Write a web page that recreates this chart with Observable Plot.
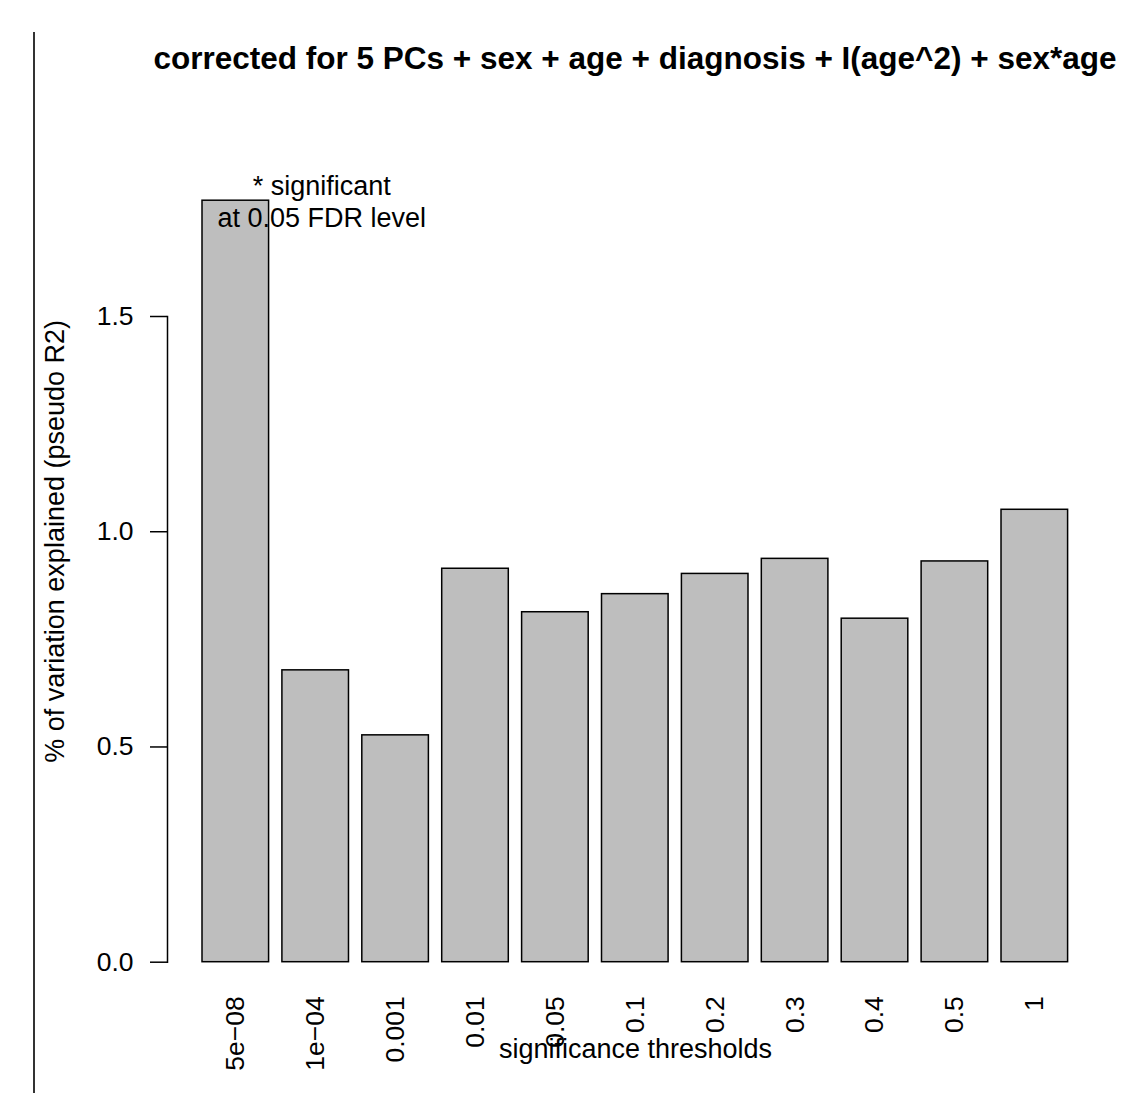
<!DOCTYPE html>
<html>
<head>
<meta charset="utf-8">
<script src="https://cdn.jsdelivr.net/npm/d3@7"></script>
<script src="https://cdn.jsdelivr.net/npm/@observablehq/plot@0.6"></script>
<style>
  html, body { margin: 0; padding: 0; background: white; overflow: hidden; }
  body { font-family: "Liberation Sans", Arial, sans-serif; }
  #wrap { position: relative; width: 1146px; height: 1093px; }
  #border { position: absolute; left: 33px; top: 32px; width: 0; height: 1061px; border-left: 2px solid #333; z-index: 5; }
  #title { position: absolute; left: 635px; top: 43px; transform: translateX(-50%); white-space: nowrap;
           font-size: 31.5px; line-height: 31px; font-weight: bold; color: #000; z-index: 5; }
  #chart { position: absolute; left: 0; top: 100px; }
</style>
</head>
<body>
<div id="wrap">
  <div id="border"></div>
  <div id="title">corrected for 5 PCs + sex + age + diagnosis + I(age^2) + sex*age</div>
  <div id="chart"></div>
</div>
<script>
const thresholds = ["5e\u221208", "1e\u221204", "0.001", "0.01", "0.05", "0.1", "0.2", "0.3", "0.4", "0.5", "1"];
const values = [1.769, 0.678, 0.527, 0.914, 0.813, 0.855, 0.902, 0.937, 0.798, 0.931, 1.051];
const yTicks = [0, 0.5, 1.0, 1.5];
const yLabel = "% of variation explained (pseudo R2)";
const xLabel = "significance thresholds";
const note = "* significant\nat 0.05 FDR level";

const data = thresholds.map((t, i) => ({threshold: t, value: values[i]}));
const maxVal = d3.max(values);
const noteData = [{threshold: thresholds[1], value: maxVal, text: note}];

const font = "Liberation Sans, Arial, sans-serif";

const chart = Plot.plot({
  width: 1146,
  height: 993,
  marginTop: 216,
  marginBottom: 131.3,
  marginLeft: 167,
  marginRight: 43,
  style: {fontFamily: font, fontSize: "26px", color: "black", background: "transparent"},
  x: {domain: thresholds, range: [202, 1067.6], paddingInner: 1/6, paddingOuter: 0, round: false},
  y: {domain: [0, 1.5]},
  marks: [
    Plot.barY(data, {x: "threshold", y: "value", fill: "#bebebe", stroke: "black", strokeWidth: 1.5}),
    Plot.frame({anchor: "left", stroke: "black", strokeWidth: 1.5}),
    Plot.axisY({ticks: yTicks, tickFormat: d3.format(".1f"), tickSize: 17, tickPadding: 17,
                fontSize: 26.5, strokeWidth: 1.5, label: null}),
    Plot.axisX({tickSize: 0, tickPadding: 34, tickRotate: -90, fontSize: 26.5, label: null}),
    Plot.text([yLabel], {frameAnchor: "left", text: d => d, rotate: -90, dx: -112, dy: -98,
                         textAnchor: "middle", lineAnchor: "middle", fontSize: 27, fill: "black"}),
    Plot.text([xLabel], {frameAnchor: "bottom", text: d => d, dy: 87, textAnchor: "middle",
                         lineAnchor: "middle", fontSize: 27, fill: "black"}),
    Plot.text(noteData, {x: "threshold", y: "value", text: "text", dx: 6, lineHeight: 1.2,
                         fontSize: 27, fill: "black"})
  ]
});
document.getElementById("chart").appendChild(chart);
</script>
</body>
</html>
